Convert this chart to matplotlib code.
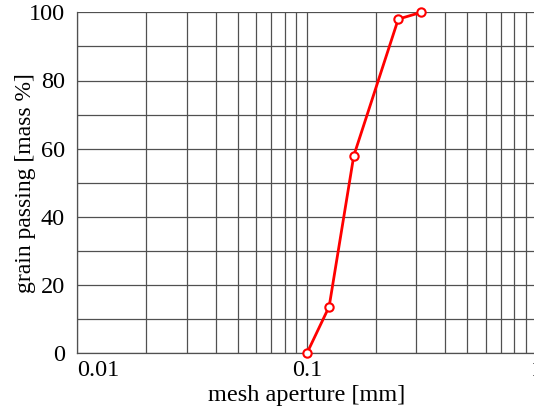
import matplotlib
matplotlib.use('Agg')
import matplotlib.pyplot as plt
from matplotlib.ticker import FixedLocator, NullFormatter, LogLocator

# sieve analysis data
aperture_mm = [0.1, 0.125, 0.16, 0.25, 0.315]
passing_pct = [0.0, 13.7, 57.9, 98.0, 100.0]

x_ticks = [0.01, 0.1, 1]
x_tick_labels = ['0.01', '0.1', '1']
y_ticks = [0, 20, 40, 60, 80, 100]

plt.rcParams['font.family'] = ['Liberation Serif', 'DejaVu Serif']

fig = plt.figure(figsize=(5.34, 4.08), dpi=100)
ax = fig.add_axes([77.3 / 534, 54.7 / 408, (536.5 - 77.3) / 534, 341 / 408])

ax.plot(aperture_mm, passing_pct, '-o', color='#ff0000', lw=2,
        ms=6, mfc='white', mec='#ff0000', mew=1.5, clip_on=False, zorder=5)

ax.set_xscale('log')
ax.set_xlim(0.01, 1)
ax.set_ylim(0, 100)

ax.xaxis.set_major_locator(FixedLocator(x_ticks))
ax.set_xticklabels(x_tick_labels)
ax.xaxis.set_minor_locator(LogLocator(base=10, subs=range(2, 10)))
ax.xaxis.set_minor_formatter(NullFormatter())
ax.set_yticks(y_ticks)
ax.set_yticks(range(0, 101, 10), minor=True)

ax.grid(True, which='both', color='#505050', lw=0.9)
ax.tick_params(which='both', length=0, labelsize=17.5)
ax.tick_params(axis='y', pad=9)
ax.tick_params(axis='x', pad=5)
ax.get_xticklabels()[0].set_horizontalalignment('left')

for s in ('top', 'right'):
    ax.spines[s].set_visible(False)
for s in ('left', 'bottom'):
    ax.spines[s].set_color('#505050')
    ax.spines[s].set_linewidth(0.9)

ax.set_xlabel('mesh aperture [mm]', fontsize=17.5, labelpad=3)
ax.set_ylabel('grain passing [mass %]', fontsize=17, labelpad=-5)

fig.savefig('out.png', dpi=100)
